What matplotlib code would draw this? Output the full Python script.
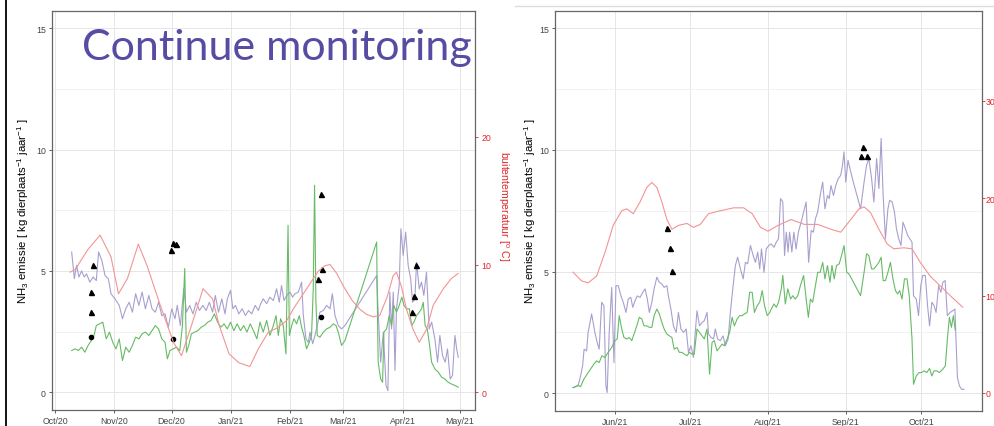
import matplotlib
matplotlib.use('Agg')
import matplotlib.pyplot as plt
import matplotlib.dates as mdates
from matplotlib.lines import Line2D
import numpy as np

plt.rcParams['font.family'] = ['Liberation Sans', 'DejaVu Sans']
plt.rcParams['mathtext.default'] = 'regular'

PURPLE = '#a99fcf'
GREEN = '#66bb66'
RED = '#f29494'
RED_AXIS = '#e0262a'
TITLE_COLOR = '#574ca3'

# ---- left panel: days since 2020-10-01, NH3 emission / temperature ----
left_start = '2020-10-01'
left_purple = [
    (8.7, 5.78), (10.1, 4.68), (11.3, 5.23), (12.5, 4.75), (13.9, 5.0), (15.3, 4.75), (16.5, 4.88),
    (18.2, 4.54), (19.9, 4.75), (21.6, 4.6), (22.8, 5.78), (24.5, 5.43), (26.2, 4.8), (27.9, 4.68),
    (29.3, 4.06), (31.4, 3.85), (33.6, 3.58), (35.3, 3.03), (37.0, 3.44), (38.8, 3.71), (40.5, 3.3),
    (42.2, 4.06), (43.9, 3.58), (45.6, 4.13), (47.3, 3.44), (49.1, 3.99), (50.8, 3.44), (52.5, 3.3),
    (54.2, 3.71), (55.9, 3.16), (57.6, 3.23), (59.3, 2.68), (61.1, 3.44), (62.8, 3.03), (64.0, 3.58),
    (65.6, 2.75), (67.4, 4.26), (68.8, 3.3), (70.5, 3.58), (72.2, 3.23), (73.9, 3.71), (75.6, 3.37),
    (77.4, 3.58), (79.1, 3.37), (80.8, 3.71), (82.5, 3.3), (83.9, 3.99), (85.6, 3.3), (87.3, 3.85),
    (89.0, 3.23), (90.2, 3.85), (91.9, 4.2), (93.1, 3.44), (94.5, 3.58), (96.2, 3.23), (98.0, 3.44),
    (99.7, 3.16), (101.3, 3.37), (103.0, 3.23), (104.8, 3.58), (106.5, 3.37), (107.3, 3.58), (109.0, 3.85),
    (110.8, 3.65), (112.5, 3.92), (114.3, 3.78), (116.0, 4.26), (117.4, 3.71), (118.6, 4.4), (119.9, 3.78),
    (121.3, 3.99), (123.0, 4.13), (124.4, 3.92), (125.6, 4.06), (127.4, 4.13), (129.1, 4.54), (130.0, 3.16),
    (131.4, 2.2), (132.6, 2.06), (133.5, 2.48), (134.9, 2.0), (136.1, 2.34), (137.3, 2.75), (138.7, 3.3),
    (140.5, 3.37), (142.2, 3.58), (144.0, 3.44), (145.2, 4.06), (146.6, 3.16), (148.3, 2.75), (150.0, 2.61),
    (151.8, 2.75), (168.4, 4.81), (169.2, 3.3), (170.5, 1.24), (171.9, 2.48), (173.3, 0.28), (174.3, 0.07),
    (175.3, 4.13), (176.2, 2.61), (177.1, 4.13), (178.0, 0.9), (178.8, 3.44), (180.2, 4.4), (181.1, 6.74),
    (182.3, 5.64), (183.6, 6.6), (184.9, 5.23), (186.2, 4.68), (187.2, 3.71), (188.4, 3.85), (189.3, 5.36),
    (190.7, 4.26), (191.9, 4.54), (193.1, 3.99), (194.5, 4.95), (195.9, 2.61), (197.2, 2.89), (198.9, 2.2),
    (200.3, 1.24), (201.5, 2.34), (202.9, 1.51), (204.3, 1.24), (205.5, 1.79), (206.9, 0.55), (208.1, 0.69),
    (209.4, 2.34), (210.3, 1.79), (211.1, 1.44),
]
left_green = [
    (8.7, 1.72), (10.5, 1.79), (12.2, 1.72), (13.9, 1.86), (15.6, 1.65), (17.3, 1.93), (19.0, 2.13),
    (20.4, 2.34), (21.6, 2.75), (23.3, 2.82), (25.0, 2.89), (26.8, 2.2), (28.5, 2.48), (30.2, 2.06),
    (31.9, 1.79), (33.6, 2.2), (35.3, 1.31), (37.0, 1.86), (38.8, 1.65), (40.5, 1.93), (42.2, 2.27),
    (43.9, 2.2), (45.6, 2.41), (47.3, 2.48), (49.1, 2.34), (50.8, 2.54), (52.5, 2.75), (54.2, 2.61),
    (55.9, 2.2), (57.6, 2.06), (58.8, 1.38), (60.2, 1.72), (61.9, 1.79), (63.6, 1.86), (65.3, 1.72),
    (66.7, 2.75), (67.9, 5.1), (68.8, 1.65), (70.0, 1.93), (71.4, 2.41), (73.1, 2.48), (74.8, 2.54),
    (76.5, 2.68), (78.2, 2.75), (80.0, 2.89), (81.7, 2.96), (83.4, 3.23), (85.1, 2.89), (86.8, 2.68),
    (88.5, 2.82), (90.2, 2.61), (91.9, 2.89), (93.6, 2.54), (95.4, 2.82), (97.1, 2.54), (98.8, 2.75),
    (100.5, 2.48), (102.2, 2.82), (103.9, 2.54), (105.7, 2.2), (107.3, 2.89), (109.0, 2.48), (110.8, 2.96),
    (112.5, 2.34), (114.3, 2.75), (115.7, 3.16), (116.9, 2.34), (118.1, 3.03), (119.5, 2.75), (120.9, 1.58),
    (122.0, 6.88), (122.7, 2.34), (123.9, 2.75), (125.1, 3.03), (126.5, 2.82), (127.9, 3.16), (129.1, 2.68),
    (130.3, 2.34), (131.7, 1.79), (133.1, 2.06), (134.3, 2.34), (135.2, 4.26), (135.9, 8.53), (136.6, 3.71),
    (137.3, 2.34), (138.7, 2.27), (140.5, 2.48), (142.2, 2.61), (144.0, 2.68), (145.7, 2.82), (147.1, 2.75),
    (148.3, 2.48), (150.0, 1.93), (151.8, 2.13), (168.4, 6.19), (168.7, 3.99), (169.2, 1.24), (170.5, 0.55),
    (171.5, 0.41), (172.2, 2.48), (173.6, 2.61), (175.0, 3.16), (176.2, 2.75), (177.4, 3.58), (178.8, 3.3),
    (180.2, 3.58), (181.6, 3.92), (182.7, 3.58), (184.1, 3.44), (185.5, 3.44), (186.7, 2.75), (187.9, 2.89),
    (189.3, 3.16), (190.7, 3.3), (191.9, 3.44), (192.8, 3.71), (193.8, 2.75), (194.9, 2.61), (195.9, 2.06),
    (197.2, 1.24), (198.9, 0.96), (200.7, 0.83), (202.4, 0.62), (204.1, 0.55), (205.9, 0.41), (207.6, 0.34),
    (209.4, 0.28), (211.1, 0.21),
]
left_temp = [
    (7.9, 9.4), (10.5, 9.6), (17.3, 11.2), (23.6, 12.3), (29.3, 10.6), (33.2, 7.7), (37.9, 8.9),
    (43.6, 11.6), (48.2, 9.9), (55.1, 6.8), (62.0, 3.9), (66.2, 2.85), (71.4, 5.2), (77.5, 8.1),
    (82.5, 7.3), (86.0, 5.2), (91.1, 3.0), (96.2, 2.3), (102.0, 2.0), (106.5, 3.4), (111.7, 4.7),
    (116.0, 5.0), (121.3, 5.6), (124.7, 6.5), (133.5, 8.5), (138.0, 9.5), (141.3, 9.9), (144.0, 10.0),
    (147.5, 9.3), (151.0, 8.3), (155.5, 7.2), (159.6, 6.5), (163.0, 6.1), (166.6, 5.9), (170.0, 6.0),
    (174.0, 7.5), (177.0, 9.1), (178.8, 9.4), (181.5, 8.2), (184.0, 6.5), (187.5, 4.9), (190.7, 3.9),
    (194.5, 4.9), (198.0, 6.8), (203.3, 8.1), (207.5, 8.9), (211.1, 9.3),
]
left_triangles = [(20.1, 5.26), (18.8, 4.15), (18.8, 3.3), (60.7, 5.88), (62.0, 6.14), (63.2, 6.1),
                  (139.0, 8.17), (140.0, 5.08), (137.9, 4.67), (189.0, 5.26), (188.1, 3.98), (187.0, 3.32)]
left_dots = [(18.8, 2.27), (61.8, 2.2), (139.0, 3.09)]

# ---- right panel: days since 2021-05-01 ----
right_start = '2021-05-01'
right_purple = [
    (14.3, 0.23), (16.3, 0.3), (17.3, 0.71), (18.1, 1.13), (18.7, 1.81), (19.7, 1.74), (20.3, 2.5),
    (21.7, 3.26), (23.0, 2.5), (23.9, 2.09), (24.7, 1.81), (25.7, 3.74), (26.6, 3.6), (27.4, 0.3),
    (27.9, 0.03), (28.7, 2.5), (29.7, 4.35), (30.6, 1.26), (31.4, 4.42), (32.3, 4.42), (33.4, 4.0),
    (34.3, 3.74), (35.4, 3.32), (36.3, 3.87), (37.3, 3.94), (38.1, 3.53), (39.0, 3.8), (39.9, 4.0),
    (41.0, 3.94), (42.1, 4.15), (43.0, 4.29), (43.9, 3.87), (44.7, 3.32), (45.7, 3.74), (46.6, 4.29),
    (47.7, 4.77), (48.7, 4.56), (49.7, 4.49), (50.6, 4.35), (51.7, 4.42), (52.3, 4.0), (53.3, 3.46),
    (54.3, 2.77), (55.4, 2.5), (56.3, 3.32), (57.3, 2.64), (58.3, 2.5), (59.4, 2.64), (60.3, 1.68),
    (61.3, 1.95), (62.3, 1.47), (63.0, 2.5), (63.7, 3.39), (64.7, 2.77), (65.7, 2.91), (66.6, 2.98),
    (67.7, 3.32), (68.3, 2.43), (69.3, 2.29), (70.3, 2.23), (71.0, 2.64), (71.9, 2.23), (73.0, 2.16),
    (74.1, 2.36), (75.0, 1.95), (76.1, 2.23), (77.0, 3.32), (78.1, 4.42), (79.0, 5.25), (79.9, 5.59),
    (81.0, 5.11), (82.1, 4.7), (83.0, 5.38), (83.9, 5.32), (85.0, 6.07), (86.1, 5.66), (87.0, 5.38),
    (87.9, 5.8), (88.7, 5.11), (89.4, 5.93), (90.4, 4.97), (91.3, 5.93), (92.3, 6.07), (93.3, 6.14),
    (94.4, 6.0), (95.3, 6.21), (96.2, 6.35), (97.0, 8.0), (97.9, 7.86), (98.6, 5.66), (99.3, 6.62),
    (100.0, 5.8), (100.6, 6.62), (101.5, 5.8), (102.3, 6.62), (103.2, 5.93), (104.1, 6.62), (105.2, 7.03),
    (106.2, 7.45), (107.2, 7.86), (108.2, 5.38), (109.2, 6.69), (110.1, 6.62), (110.9, 7.17), (111.8, 7.45),
    (112.8, 8.13), (113.8, 8.68), (114.7, 7.58), (115.7, 8.13), (116.4, 8.0), (117.1, 8.54), (118.1, 8.13),
    (119.0, 8.54), (120.0, 8.82), (121.0, 8.96), (121.7, 9.37), (122.3, 9.92), (123.0, 8.68), (123.9, 9.57),
    (125.0, 9.09), (126.0, 8.68), (128.9, 7.58), (130.3, 8.68), (131.3, 9.37), (132.2, 9.64), (133.3, 8.82),
    (134.2, 7.86), (135.3, 9.64), (136.2, 8.41), (137.1, 10.47), (137.9, 8.13), (138.8, 6.35), (139.8, 7.58),
    (140.5, 7.93), (141.5, 7.86), (142.4, 7.45), (143.2, 6.76), (144.1, 6.35), (145.0, 6.07), (145.8, 7.03),
    (146.8, 6.76), (147.7, 6.48), (148.5, 6.35), (149.4, 6.21), (150.0, 4.01), (151.1, 3.87), (152.0, 3.19),
    (152.9, 4.42), (153.7, 4.84), (154.7, 4.84), (155.6, 3.6), (156.4, 2.77), (157.3, 3.74), (158.2, 3.6),
    (159.0, 3.32), (160.0, 4.42), (160.9, 4.15), (161.7, 4.56), (162.6, 4.63), (163.5, 3.19), (164.6, 3.32),
    (165.6, 3.39), (166.5, 3.46), (167.5, 0.65), (168.3, 0.3), (169.2, 0.16), (170.1, 0.16),
]
right_green = [
    (14.3, 0.23), (16.3, 0.33), (17.3, 0.27), (18.6, 0.58), (19.9, 0.78), (21.3, 0.99), (22.6, 1.2),
    (23.7, 1.33), (24.7, 1.26), (25.8, 1.54), (27.0, 1.47), (28.3, 1.68), (29.7, 1.88), (31.0, 2.16),
    (31.9, 2.23), (32.7, 3.19), (33.7, 2.64), (34.6, 2.29), (35.7, 2.23), (36.7, 2.29), (37.7, 2.16),
    (38.6, 2.43), (39.7, 2.77), (40.7, 3.12), (41.7, 3.05), (42.6, 2.77), (43.7, 2.77), (44.7, 2.71),
    (45.7, 2.71), (46.6, 3.19), (47.7, 3.46), (48.7, 3.26), (49.7, 2.91), (50.6, 2.64), (51.7, 2.43),
    (52.7, 2.36), (53.7, 2.29), (54.6, 1.81), (55.7, 1.88), (56.7, 1.68), (57.7, 1.68), (58.6, 1.61),
    (59.7, 1.54), (60.7, 1.68), (61.7, 1.61), (62.6, 1.61), (63.7, 2.64), (64.7, 2.5), (65.7, 2.36),
    (66.6, 2.23), (67.7, 2.64), (68.7, 0.78), (69.7, 2.09), (70.6, 2.16), (71.7, 1.74), (72.7, 1.88),
    (73.7, 2.02), (74.6, 1.95), (75.7, 2.23), (76.7, 2.5), (77.7, 3.12), (78.6, 2.77), (79.7, 3.05),
    (80.7, 3.19), (81.7, 3.19), (82.6, 3.26), (83.7, 3.32), (84.7, 4.15), (85.7, 4.15), (86.6, 3.32),
    (87.7, 3.6), (88.7, 3.74), (89.7, 4.22), (90.6, 3.6), (91.7, 3.19), (92.7, 3.32), (93.3, 3.46),
    (94.4, 3.67), (95.3, 3.53), (96.2, 3.74), (97.3, 4.29), (97.9, 4.84), (98.9, 3.67), (99.9, 4.29),
    (101.0, 3.87), (101.9, 4.01), (102.8, 3.87), (103.9, 4.01), (104.9, 4.42), (106.2, 4.84), (107.2, 3.87),
    (108.1, 3.12), (108.9, 3.87), (109.8, 3.74), (110.7, 4.29), (111.8, 4.97), (112.8, 4.97), (113.8, 5.38),
    (114.7, 4.7), (115.7, 5.25), (116.7, 4.56), (117.5, 5.25), (118.4, 4.7), (119.3, 5.25), (120.4, 5.32),
    (121.3, 5.66), (122.3, 6.07), (123.4, 4.97), (124.3, 4.9), (128.9, 4.01), (130.3, 4.97), (131.3, 5.73),
    (132.2, 5.66), (133.3, 5.11), (134.2, 5.11), (135.3, 5.25), (136.2, 5.38), (137.1, 5.59), (137.9, 4.63),
    (138.8, 4.63), (139.8, 4.97), (140.8, 5.38), (141.8, 4.7), (142.8, 4.22), (143.7, 4.08), (144.5, 4.22),
    (145.4, 3.87), (146.4, 4.7), (147.4, 4.7), (148.3, 4.01), (149.4, 2.23), (150.0, 0.37), (151.1, 0.71),
    (152.2, 0.85), (153.2, 0.85), (154.3, 0.92), (155.3, 0.85), (156.4, 1.02), (157.3, 0.71), (158.2, 0.92),
    (159.3, 0.92), (160.3, 0.85), (161.7, 0.99), (162.7, 1.13), (163.5, 2.23), (164.3, 3.12), (165.1, 2.71),
    (165.9, 3.19), (166.6, 2.6),
]
right_temp = [
    (14.3, 12.4), (17.7, 11.5), (20.3, 11.3), (23.7, 12.0), (27.0, 14.4), (30.3, 17.2), (33.7, 18.7),
    (35.7, 18.9), (38.3, 18.4), (41.0, 19.6), (43.7, 21.1), (45.7, 21.6), (47.7, 21.1), (49.7, 19.6),
    (51.7, 17.8), (53.7, 16.8), (56.3, 17.2), (59.7, 17.4), (62.3, 17.0), (65.0, 17.3), (68.3, 18.4),
    (73.0, 18.7), (78.3, 19.0), (82.3, 19.0), (85.7, 18.4), (89.0, 17.0), (92.0, 16.6), (96.0, 17.2),
    (101.2, 17.8), (106.5, 17.3), (111.8, 17.3), (117.1, 16.8), (121.0, 16.5), (125.0, 17.8), (128.3, 18.9),
    (130.3, 19.1), (132.9, 18.5), (136.2, 16.8), (139.5, 15.3), (142.1, 14.8), (146.1, 14.9), (149.4, 14.8),
    (152.7, 13.4), (156.6, 12.0), (160.6, 11.0), (164.6, 10.0), (169.6, 8.8),
]
right_triangles = [(51.9, 6.79), (53.0, 5.96), (53.9, 5.01), (130.0, 10.12), (128.9, 9.75), (131.3, 9.75)]
right_dots = []

W, H = 994, 427


def to_xy(start, pts):
    days = np.array([p[0] for p in pts], dtype=float)
    vals = np.array([p[1] for p in pts], dtype=float)
    dates = np.datetime64(start, 's') + (days * 86400).astype('timedelta64[s]')
    return dates, vals


def day(start, d):
    return np.datetime64(start, 's') + np.timedelta64(int(d * 86400), 's')


def make_panel(fig, box, start, xlim, purple, green, temp, tris, dots, t_lim, t_ticks,
               t_len=2.5, t_pad=2):
    l, r, t, b = box
    ax = fig.add_axes([l / W, 1 - b / H, (r - l) / W, (b - t) / H])
    ax2 = ax.twinx()

    x, y = to_xy(start, purple)
    ax.plot(x, y, color=PURPLE, lw=0.8)
    x, y = to_xy(start, green)
    ax.plot(x, y, color=GREEN, lw=0.8)
    if tris:
        x, y = to_xy(start, tris)
        ax.plot(x, y, '^', color='black', ms=3.6, ls='none')
    if dots:
        x, y = to_xy(start, dots)
        ax.plot(x, y, 'o', color='black', ms=3.0, ls='none')
    x, y = to_xy(start, temp)
    ax2.plot(x, y, color=RED, lw=0.8)

    ax.set_xlim(day(start, xlim[0]), day(start, xlim[1]))
    ax.set_ylim(-0.73, 15.71)
    ax.set_yticks([0, 5, 10, 15])
    ax.set_yticks([2.5, 7.5, 12.5], minor=True)
    ax.xaxis.set_major_locator(mdates.MonthLocator())
    ax.xaxis.set_major_formatter(mdates.DateFormatter('%b/%y'))
    ax.set_axisbelow(True)
    ax.grid(which='major', color='#e6e6e6', lw=0.7)
    ax.grid(which='minor', axis='y', color='#f0f0f0', lw=0.6)
    ax.tick_params(labelsize=6.3, colors='#444444', length=2.5, width=0.6, pad=2)
    ax.tick_params(which='minor', length=0)

    ax2.set_ylim(*t_lim)
    ax2.set_yticks(t_ticks)
    ax2.tick_params(labelsize=6.3, colors=RED_AXIS, length=t_len, width=0.6, pad=t_pad)
    for sp in ax2.spines.values():
        sp.set_visible(False)
    for sp in ax.spines.values():
        sp.set_color('#666666')
        sp.set_linewidth(0.9)
    return ax, ax2


fig = plt.figure(figsize=(W / 100, H / 100), dpi=100)

make_panel(fig, (52, 475, 12, 411), left_start, (-1.6, 219.9), left_purple, left_green,
           left_temp, left_triangles, left_dots, (-1.41, 29.88), [0, 10, 20])
make_panel(fig, (555, 982, 12, 412), right_start, (7.1, 177.3), right_purple, right_green,
           right_temp, right_triangles, right_dots, (-1.85, 39.2), [0, 10, 20, 30],
           t_len=2, t_pad=0.5)

nh3_label = r'NH$_3$ emissie [ kg dierplaats$^{-1}$ jaar$^{-1}$ ]'
fig.text(23 / W, 1 - 211 / H, nh3_label, rotation=90, ha='center', va='center', fontsize=8.2)
fig.text(530 / W, 1 - 211 / H, nh3_label, rotation=90, ha='center', va='center', fontsize=8.2)
fig.text(503 / W, 1 - 206 / H, r'buitentemperatuur [$^o$ C]', rotation=270, ha='center',
         va='center', fontsize=7.6, color=RED_AXIS)

fig.text(82 / W, 1 - 60 / H, 'Continue monitoring', fontsize=31, color=TITLE_COLOR,
         family=['Lato', 'DejaVu Sans'], ha='left', va='baseline')

# slide decorations
fig.add_artist(Line2D([6 / W, 6 / W], [0, 1], color='black', lw=1.3))
fig.add_artist(Line2D([515 / W, 1], [1 - 7 / H, 1 - 7 / H], color='#dcdcdc', lw=1.0))

fig.savefig('out.png', dpi=100)
